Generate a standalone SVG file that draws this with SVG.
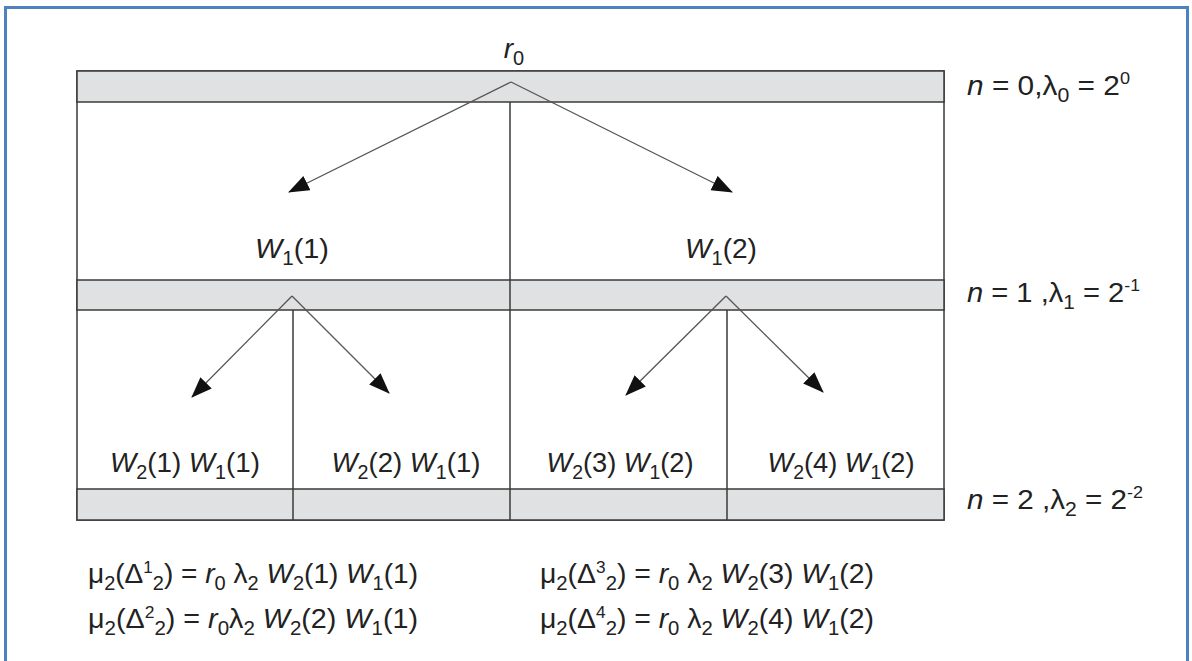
<svg xmlns="http://www.w3.org/2000/svg" width="1192" height="661" viewBox="0 0 1192 661">
<defs>
<style>
text{font-family:"Liberation Sans",Arial,sans-serif;font-size:28px;fill:#222}
.i{font-style:italic}
.s{font-size:20px}
.p{font-size:17px}
.band{fill:#e0e1e3;stroke:#3a3a3a;stroke-width:1.5}
.ln{stroke:#3a3a3a;stroke-width:1.5;fill:none}
.ar{stroke:#555;stroke-width:1.3;fill:none;marker-end:url(#ah)}
</style>
<marker id="ah" markerWidth="22" markerHeight="18" refX="20" refY="8" orient="auto" markerUnits="userSpaceOnUse">
<path d="M0,0 L21,8 L0,16 Z" fill="#111"/>
</marker>
</defs>
<rect width="1192" height="661" fill="#fff"/>
<rect x="5.5" y="7.5" width="1182" height="670" fill="none" stroke="#4f81bd" stroke-width="3"/>

<g id="grid">
<rect x="77" y="71" width="867" height="449" fill="#fff" stroke="#3a3a3a" stroke-width="1.5"/>
<rect class="band" x="77" y="71" width="867" height="31"/>
<rect class="band" x="77" y="280" width="867" height="30"/>
<rect class="band" x="77" y="489" width="867" height="31"/>
<line class="ln" x1="510" y1="102" x2="510" y2="520"/>
<line class="ln" x1="293" y1="310" x2="293" y2="520"/>
<line class="ln" x1="727" y1="310" x2="727" y2="520"/>
</g>

<g id="connectors">
<path class="ar" d="M511,82 L289,192"/>
<path class="ar" d="M511,82 L732,192"/>
<path class="ar" d="M292,296 L192,397"/>
<path class="ar" d="M292,296 L389,393"/>
<path class="ar" d="M726,296 L626,395"/>
<path class="ar" d="M726,296 L823,392"/>
</g>

<g id="n-r0"><text x="514" y="58" text-anchor="middle"><tspan class="i">r</tspan><tspan class="s" dy="7">0</tspan></text></g>
<g id="n-w11"><text x="292" y="258" text-anchor="middle" textLength="74" lengthAdjust="spacingAndGlyphs"><tspan class="i">W</tspan><tspan class="s" dy="7">1</tspan><tspan dy="-7">(1)</tspan></text></g>
<g id="n-w12"><text x="721" y="258" text-anchor="middle" textLength="72" lengthAdjust="spacingAndGlyphs"><tspan class="i">W</tspan><tspan class="s" dy="7">1</tspan><tspan dy="-7">(2)</tspan></text></g>

<g id="n-w21"><text x="185" y="472" text-anchor="middle" textLength="150" lengthAdjust="spacingAndGlyphs"><tspan class="i">W</tspan><tspan class="s" dy="7">2</tspan><tspan dy="-7">(1) </tspan><tspan class="i">W</tspan><tspan class="s" dy="7">1</tspan><tspan dy="-7">(1)</tspan></text></g>
<g id="n-w22"><text x="406" y="472" text-anchor="middle" textLength="149" lengthAdjust="spacingAndGlyphs"><tspan class="i">W</tspan><tspan class="s" dy="7">2</tspan><tspan dy="-7">(2) </tspan><tspan class="i">W</tspan><tspan class="s" dy="7">1</tspan><tspan dy="-7">(1)</tspan></text></g>
<g id="n-w23"><text x="620" y="472" text-anchor="middle" textLength="147" lengthAdjust="spacingAndGlyphs"><tspan class="i">W</tspan><tspan class="s" dy="7">2</tspan><tspan dy="-7">(3) </tspan><tspan class="i">W</tspan><tspan class="s" dy="7">1</tspan><tspan dy="-7">(2)</tspan></text></g>
<g id="n-w24"><text x="841" y="472" text-anchor="middle" textLength="147" lengthAdjust="spacingAndGlyphs"><tspan class="i">W</tspan><tspan class="s" dy="7">2</tspan><tspan dy="-7">(4) </tspan><tspan class="i">W</tspan><tspan class="s" dy="7">1</tspan><tspan dy="-7">(2)</tspan></text></g>

<g id="levels">
<text x="967" y="95" textLength="163" lengthAdjust="spacingAndGlyphs"><tspan class="i">n</tspan> = 0,λ<tspan class="s" dy="7">0</tspan><tspan dy="-7"> = 2</tspan><tspan class="p" dy="-11">0</tspan></text>
<text x="967" y="302" textLength="173" lengthAdjust="spacingAndGlyphs"><tspan class="i">n</tspan> = 1 ,λ<tspan class="s" dy="7">1</tspan><tspan dy="-7"> = 2</tspan><tspan class="p" dy="-11">-1</tspan></text>
<text x="967" y="509" textLength="176" lengthAdjust="spacingAndGlyphs"><tspan class="i">n</tspan> = 2 ,λ<tspan class="s" dy="7">2</tspan><tspan dy="-7"> = 2</tspan><tspan class="p" dy="-11">-2</tspan></text>
</g>

<g id="formulas">
<text x="88" y="583" textLength="330" lengthAdjust="spacingAndGlyphs">μ<tspan class="s" dy="7">2</tspan><tspan dy="-7">(Δ</tspan><tspan class="p" dy="-10">1</tspan><tspan class="s" dy="17">2</tspan><tspan dy="-7">) = </tspan><tspan class="i">r</tspan><tspan class="s" dy="7">0</tspan><tspan dy="-7"> λ</tspan><tspan class="s" dy="7">2</tspan><tspan dy="-7"> </tspan><tspan class="i">W</tspan><tspan class="s" dy="7">2</tspan><tspan dy="-7">(1) </tspan><tspan class="i">W</tspan><tspan class="s" dy="7">1</tspan><tspan dy="-7">(1)</tspan></text>
<text x="88" y="628" textLength="330" lengthAdjust="spacingAndGlyphs">μ<tspan class="s" dy="7">2</tspan><tspan dy="-7">(Δ</tspan><tspan class="p" dy="-10">2</tspan><tspan class="s" dy="17">2</tspan><tspan dy="-7">) = </tspan><tspan class="i">r</tspan><tspan class="s" dy="7">0</tspan><tspan dy="-7">λ</tspan><tspan class="s" dy="7">2</tspan><tspan dy="-7"> </tspan><tspan class="i">W</tspan><tspan class="s" dy="7">2</tspan><tspan dy="-7">(2) </tspan><tspan class="i">W</tspan><tspan class="s" dy="7">1</tspan><tspan dy="-7">(1)</tspan></text>
<text x="540" y="583" textLength="334" lengthAdjust="spacingAndGlyphs">μ<tspan class="s" dy="7">2</tspan><tspan dy="-7">(Δ</tspan><tspan class="p" dy="-10">3</tspan><tspan class="s" dy="17">2</tspan><tspan dy="-7">) = </tspan><tspan class="i">r</tspan><tspan class="s" dy="7">0</tspan><tspan dy="-7"> λ</tspan><tspan class="s" dy="7">2</tspan><tspan dy="-7"> </tspan><tspan class="i">W</tspan><tspan class="s" dy="7">2</tspan><tspan dy="-7">(3) </tspan><tspan class="i">W</tspan><tspan class="s" dy="7">1</tspan><tspan dy="-7">(2)</tspan></text>
<text x="540" y="628" textLength="334" lengthAdjust="spacingAndGlyphs">μ<tspan class="s" dy="7">2</tspan><tspan dy="-7">(Δ</tspan><tspan class="p" dy="-10">4</tspan><tspan class="s" dy="17">2</tspan><tspan dy="-7">) = </tspan><tspan class="i">r</tspan><tspan class="s" dy="7">0</tspan><tspan dy="-7"> λ</tspan><tspan class="s" dy="7">2</tspan><tspan dy="-7"> </tspan><tspan class="i">W</tspan><tspan class="s" dy="7">2</tspan><tspan dy="-7">(4) </tspan><tspan class="i">W</tspan><tspan class="s" dy="7">1</tspan><tspan dy="-7">(2)</tspan></text>
</g>
</svg>
